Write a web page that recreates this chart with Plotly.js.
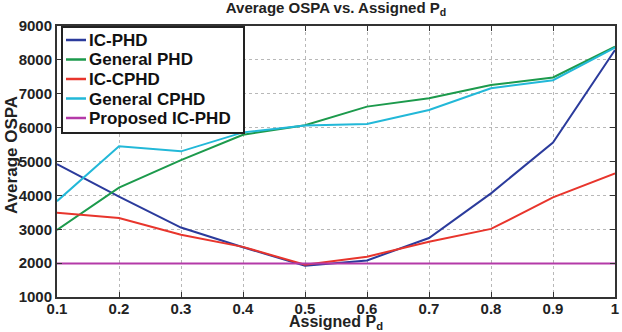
<!DOCTYPE html>
<html>
<head>
<meta charset="utf-8">
<script src="https://cdn.plot.ly/plotly-3.0.1.min.js"></script>
<style>html,body{margin:0;padding:0;background:#fff;}#chart{width:622px;height:332px;}</style>
</head>
<body>
<div id="chart"></div>
<script>
const pd = [0.1, 0.2, 0.3, 0.4, 0.5, 0.6, 0.7, 0.8, 0.9, 1.0];
const icPhd = [4920, 3960, 3050, 2470, 1920, 2080, 2740, 4060, 5560, 8290];
const generalPhd = [2980, 4230, 5040, 5790, 6070, 6620, 6870, 7260, 7480, 8390];
const icCphd = [3490, 3330, 2840, 2480, 1950, 2190, 2630, 3010, 3940, 4650];
const generalCphd = [3830, 5450, 5300, 5860, 6060, 6110, 6520, 7160, 7400, 8360];
const proposedIcPhd = [1990, 1990, 1990, 1990, 1990, 1990, 1990, 1990, 1990, 1990];
const seriesNames = ["IC-PHD", "General PHD", "IC-CPHD", "General CPHD", "Proposed IC-PHD"];
const seriesColors = ["#2b3b9c", "#1c9a4c", "#e8352c", "#22b8d8", "#b43aa8"];
const seriesData = [icPhd, generalPhd, icCphd, generalCphd, proposedIcPhd];
const xTicks = [0.1, 0.2, 0.3, 0.4, 0.5, 0.6, 0.7, 0.8, 0.9, 1];
const xTickText = ["0.1", "0.2", "0.3", "0.4", "0.5", "0.6", "0.7", "0.8", "0.9", "1"];
const yTicks = [1000, 2000, 3000, 4000, 5000, 6000, 7000, 8000, 9000];
const chartTitle = "Average OSPA vs. Assigned P<sub>d</sub>";
const xTitle = "Assigned P<sub>d</sub>";
const yTitle = "Average OSPA";

const fontFam = "Liberation Sans, Arial, sans-serif";
const W = 622, H = 332;
const M = {l: 57, r: 7, t: 26, b: 35};
const pw = W - M.l - M.r, ph = H - M.t - M.b;
const px = x => (x - M.l) / pw;
const py = y => (H - M.b - y) / ph;

const traces = seriesData.map((ys, i) => ({
  x: pd, y: ys, type: "scatter", mode: "lines", name: seriesNames[i],
  line: {color: seriesColors[i], width: 2}, showlegend: false
}));

// compact legend box, as in the reference
const shapes = [{
  type: "rect", xref: "paper", yref: "paper",
  x0: px(62), x1: px(244), y0: py(133), y1: py(27),
  fillcolor: "#fff", line: {color: "#222", width: 2}, layer: "above"
}];
const annotations = [];
const rowY0 = 40, rowStep = 19.5;
seriesNames.forEach((nm, i) => {
  const yy = rowY0 + i * rowStep;
  shapes.push({type: "line", xref: "paper", yref: "paper",
    x0: px(66), x1: px(86), y0: py(yy), y1: py(yy),
    line: {color: seriesColors[i], width: 2.5}, layer: "above"});
  annotations.push({xref: "paper", yref: "paper", x: px(87), y: py(yy + 0.5),
    xanchor: "left", yanchor: "middle", showarrow: false, text: nm,
    font: {family: fontFam, size: 17, color: "#111", weight: "bold"}});
});
// axis titles
annotations.push({xref: "paper", yref: "paper", x: px(336), y: py(322), xanchor: "center",
  yanchor: "middle", showarrow: false, text: xTitle,
  font: {family: fontFam, size: 16, color: "#222", weight: "bold"}});
annotations.push({xref: "paper", yref: "paper", x: px(11), y: py(155), xanchor: "center",
  yanchor: "middle", showarrow: false, text: yTitle, textangle: -90,
  font: {family: fontFam, size: 17, color: "#222", weight: "bold"}});

const axisCommon = {
  showline: true, mirror: "ticks", linecolor: "#333", linewidth: 2,
  ticks: "inside", ticklen: 5, tickcolor: "#333", tickwidth: 1,
  showgrid: true, gridcolor: "#b8b8b8", griddash: "dot", gridwidth: 1,
  zeroline: false,
  tickfont: {family: fontFam, size: 15, color: "#222", weight: "bold"}
};

const layout = {
  width: W, height: H,
  margin: M,
  paper_bgcolor: "#fff", plot_bgcolor: "#fff",
  title: {text: chartTitle, x: 0.5, xref: "paper", xanchor: "center",
          y: 1 - 7.5 / H, yref: "container", yanchor: "middle",
          font: {family: fontFam, size: 15, color: "#222", weight: "bold"}},
  xaxis: Object.assign({}, axisCommon, {
    range: [0.1, 1], tickvals: xTicks, ticktext: xTickText, ticklabelstandoff: -3
  }),
  yaxis: Object.assign({}, axisCommon, {
    range: [1000, 9000], tickvals: yTicks
  }),
  shapes: shapes,
  annotations: annotations
};

Plotly.newPlot("chart", traces, layout, {displayModeBar: false, staticPlot: true});
</script>
</body>
</html>
